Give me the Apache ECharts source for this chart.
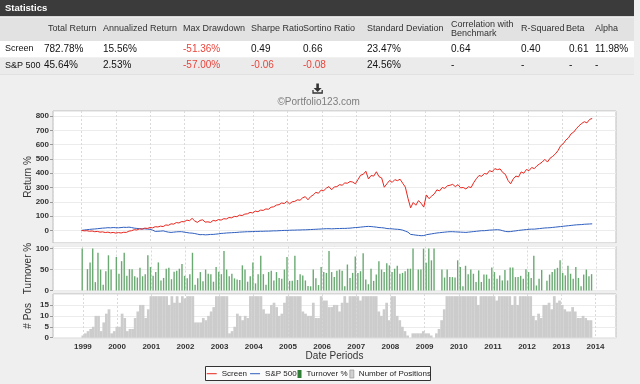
<!DOCTYPE html>
<html><head><meta charset="utf-8">
<script src="https://cdn.jsdelivr.net/npm/echarts@6/dist/echarts.min.js"></script>
<style>html,body{margin:0;padding:0;background:#efefef}#c{width:640px;height:384px}</style>
</head><body><div id="c"></div>
<script>
// ---------- data ----------
const statColumns = ['Total Return','Annualized Return','Max Drawdown','Sharpe Ratio','Sortino Ratio','Standard Deviation','Correlation with\nBenchmark','R-Squared','Beta','Alpha'];
const statRows = ['Screen','S&P 500'];
const screenStats = ['782.78%','15.56%','-51.36%','0.49','0.66','23.47%','0.64','0.40','0.61','11.98%'];
const sp500Stats  = ['45.64%','2.53%','-57.00%','-0.06','-0.08','24.56%','-','-','-','-'];
const seriesNames = ['Screen','S&P 500','Turnover %','Number of Positions'];
const footerText = '\u00A9Portfolio123.com';
// 4-week rebalance periods starting at the end of 1998
const periodStart = '1998-12-31';
const periodDays = 28;

const screenReturn = [0,-3,-2,-6,-4,-9,-7,
-12,-10,-15,-12,-17,-14,-19,-15,-18,-13,-14,-5,-2,
5,3,11,9,16,14,20,
18,26,24,30,27,38,
36,46,44,55,52,62,
60,72,68,84,66,56,
70,74,58,60,56,70,
66,76,72,82,80,90,
88,98,96,107,104,114,
116,126,122,135,131,142,
140,150,148,162,165,177,
180,192,188,203,186,200,
203,214,211,228,236,214,
236,248,266,260,282,278,
296,306,284,304,306,320,
316,332,330,342,338,326,
355,386,392,414,360,384,
380,410,376,367,302,326,
349,336,355,348,358,330,
303,225,158,195,176,208,
190,163,248,222,240,255,
284,276,300,294,312,316,
322,306,320,298,300,290,
305,300,335,362,384,378,
398,394,418,410,432,425,
430,405,392,350,326,360,
380,374,409,400,426,418,
440,432,452,465,478,497,
478,505,518,535,558,592,
606,632,648,676,688,712,
732,748,760,752,776,783];

const sp500Return = [0,3,5,7,9,10,12,
14,16,17,19,18,20,19,18,20,22,21,23,20,
16,14,12,10,11,9,8,
2,-7,-6,-5,-3,-8,
-12,-14,-12,-10,-9,-9,
-12,-15,-18,-19,-22,-26,
-30,-29,-31,-30,-28,-28,
-26,-24,-21,-20,-18,-17,
-16,-15,-14,-12,-11,-10,
-9,-9,-8,-7,-7,-6,
-6,-5,-5,-4,-3,-3,
-2,-1,0,0,1,2,
2,3,3,4,4,5,
6,7,8,9,10,11,
12,12,11,12,13,13,
14,14,15,16,18,20,
21,23,25,27,28,27,
25,23,20,19,17,13,
12,11,9,8,6,2,
-5,-12,-28,-30,-33,-35,
-37,-36,-30,-27,-24,-21,
-18,-16,-14,-12,-10,-9,
-9,-10,-11,-12,-13,-14,
-12,-10,-8,-6,-4,-2,
-2,0,2,3,4,5,
3,-2,-7,-9,-8,-5,
-3,0,2,4,6,8,
9,9,11,13,15,17,
18,19,21,23,25,27,
29,31,33,35,37,39,
40,41,43,44,45,46];

const turnover = [100,0,51,67,100,20,90,50,14,46,
84,50,0,80,40,70,90,35,51,51,
34,31,54,34,39,84,56,35,44,67,
24,30,52,54,27,45,47,52,63,35,
29,39,90,14,29,44,22,50,40,39,
21,56,45,39,94,50,34,40,29,26,
25,60,50,21,34,67,17,39,83,39,
14,44,47,24,44,30,28,50,80,23,
23,83,25,39,36,24,11,10,50,29,
13,
56,44,42,94,44,32,47,50,47,10,
62,30,42,81,42,46,89,26,15,52,
23,38,70,50,44,65,60,44,52,59,
40,42,46,52,52,100,0,50,50,100,
66,100,72,100,0,0,50,31,50,32,
32,31,72,56,10,59,39,50,40,20,
48,20,38,38,28,55,44,28,36,24,
49,24,55,55,32,32,35,28,51,44,
30,83,12,28,49,0,23,38,44,51,
54,72,42,36,59,40,28,56,30,10,
38,50,34,39];

const positions = [1,2,3,4,5,10,10,3,7,11,
13,2,3,5,5,11,9,3,4,4,
9,12,15,15,9,13,
19,19,19,19,19,19,19,
15,19,16,19,16,19,18,19,19,19,
7,7,7,
9,8,10,12,14,
19,19,19,19,19,
2,3,5,11,10,8,10,9,
19,19,19,19,19,
13,11,11,15,16,14,10,11,16,
19,19,19,19,19,19,
12,11,10,10,16,9,
9,19,17,17,14,14,15,15,12,16,19,16,
19,19,19,19,17,19,19,19,19,19,19,
12,10,13,16,8,19,19,10,8,5,3,1,0,
2,2,2,2,3,2,2,1,0,2,4,8,13,
19,19,19,19,19,19,19,19,19,19,19,19,
15,
19,19,19,19,19,19,17,19,19,19,19,19,
15,
19,15,19,19,19,19,19,
10,8,11,9,15,15,16,13,19,16,17,15,13,12,12,14,12,9,9,10,9,8,8];

// ---------- build ----------
const DAY = 86400000;
const t0 = Date.parse(periodStart + 'T00:00:00Z');
const periodDate = i => t0 + i * periodDays * DAY;
const pairs = arr => arr.map((v, i) => [periodDate(i), v]);

const FONT = '"Liberation Sans", Arial, sans-serif';
const xMin = Date.UTC(1998, 2, 2), xMax = Date.UTC(2014, 6, 25);
const gridL = 53, gridW = 563;

function xAxis(gi, showLabel) {
  return {
    type: 'time', gridIndex: gi, min: xMin, max: xMax,
    splitNumber: 16, maxInterval: 366 * DAY,
    axisLine: {show: false}, axisTick: {show: false},
    axisLabel: {show: showLabel, formatter: '{yyyy}', fontSize: 8, fontWeight: 'bold', color: '#333',
      fontFamily: FONT, margin: 5, showMinLabel: false, showMaxLabel: false},
    splitLine: {show: true, lineStyle: {color: '#dadada', type: [2, 2], width: 1}},
    name: showLabel ? 'Date Periods' : '', nameLocation: 'middle', nameGap: 13.5, nameMoveOverlap: false,
    nameTextStyle: {fontSize: 10, color: '#333', fontFamily: FONT}
  };
}
function yAxis(gi, name, extra) {
  return Object.assign({
    type: 'value', gridIndex: gi, name: name, nameLocation: 'middle', nameGap: 20, nameMoveOverlap: false,
    nameTextStyle: {fontSize: 10, color: '#333', fontFamily: FONT},
    axisLine: {show: false},
    axisTick: {show: true, length: 3, lineStyle: {color: '#999'}},
    axisLabel: {fontSize: 8, fontWeight: 'bold', color: '#333', fontFamily: FONT, margin: 4,
      showMinLabel: extra.showMin, showMaxLabel: false},
    splitLine: {show: true, lineStyle: {color: '#ececec', width: 1}}
  }, extra.opts);
}

// statistics table as graphic elements
const headX = [48, 103, 183, 251, 303, 367, 451, 521, 566, 595];
const valX  = [44, 103, 183, 251, 303, 367, 451, 521, 569, 595];
const gfx = [];
gfx.push({type: 'rect', shape: {x: 0, y: 0, width: 634, height: 16.5}, style: {fill: '#3b3b3b'}});
gfx.push({type: 'text', x: 5, y: 8, style: {text: 'Statistics', fill: '#fff', font: 'bold 9.5px ' + FONT, verticalAlign: 'middle'}});
gfx.push({type: 'rect', shape: {x: 0, y: 16.5, width: 634, height: 24.5}, style: {fill: '#e2e2e2'}});
gfx.push({type: 'rect', shape: {x: 0, y: 16.5, width: 634, height: 1}, style: {fill: '#f4f4f4'}});
gfx.push({type: 'rect', shape: {x: 0, y: 41, width: 634, height: 16.5}, style: {fill: '#ffffff'}});
gfx.push({type: 'rect', shape: {x: 0, y: 57.5, width: 634, height: 16.5}, style: {fill: '#ebebeb'}});
gfx.push({type: 'rect', shape: {x: 0, y: 74, width: 634, height: 0.8}, style: {fill: '#dddddd'}});
statColumns.forEach((c, i) => {
  gfx.push({type: 'text', x: headX[i], y: 28.8, style: {text: c, fill: '#333', font: '9px ' + FONT, verticalAlign: 'middle', lineHeight: 9}});
});
[screenStats, sp500Stats].forEach((row, r) => {
  const y = r === 0 ? 49 : 65.7;
  gfx.push({type: 'text', x: 5, y: y, style: {text: statRows[r], fill: '#111', font: '9px ' + FONT, verticalAlign: 'middle'}});
  row.forEach((v, i) => {
    const neg = v.length > 1 && v[0] === '-';
    gfx.push({type: 'text', x: valX[i], y: y, style: {text: v, fill: neg ? '#e8453c' : '#111', font: '10px ' + FONT, verticalAlign: 'middle'}});
  });
});
// download icon + copyright
gfx.push({type: 'rect', shape: {x: 316.3, y: 83.5, width: 2.6, height: 4.8}, style: {fill: '#333'}});
gfx.push({type: 'polygon', shape: {points: [[313.6, 88], [321.6, 88], [317.6, 92]]}, style: {fill: '#333'}});
gfx.push({type: 'polyline', shape: {points: [[313, 90], [313, 93], [322.2, 93], [322.2, 90]]}, style: {stroke: '#333', lineWidth: 1.3, fill: null}});
gfx.push({type: 'text', x: 318.7, y: 102.7, style: {text: footerText, fill: '#7d7d7d', font: '10px ' + FONT, align: 'center', verticalAlign: 'middle'}});
// legend frame
gfx.push({type: 'rect', z: -1, shape: {x: 205.5, y: 366.5, width: 225, height: 14}, style: {fill: '#fbfbfb', stroke: '#333', lineWidth: 1}});

const chart = echarts.init(document.getElementById('c'), null, {renderer: 'canvas'});
chart.setOption({
  animation: false,
  backgroundColor: '#efefef',
  textStyle: {fontFamily: FONT},
  graphic: {elements: gfx},
  grid: [
    {left: gridL, top: 111, width: gridW, height: 132, show: true, backgroundColor: '#fff', borderColor: '#bdbdbd', borderWidth: 1, outerBoundsMode: 'none'},
    {left: gridL, top: 246.5, width: gridW, height: 44, show: true, backgroundColor: '#fff', borderColor: '#bdbdbd', borderWidth: 1, outerBoundsMode: 'none'},
    {left: gridL, top: 294, width: gridW, height: 43.7, show: true, backgroundColor: '#fff', borderColor: '#bdbdbd', borderWidth: 1, outerBoundsMode: 'none'}
  ],
  xAxis: [xAxis(0, false), xAxis(1, false), xAxis(2, true)],
  yAxis: [
    yAxis(0, 'Return %', {showMin: false, opts: {min: -88, max: 835, splitNumber: 9, minInterval: 100, maxInterval: 100}}),
    yAxis(1, 'Turnover %', {showMin: true, opts: {min: 0, max: 105, interval: 50}}),
    yAxis(2, '# Pos', {showMin: true, opts: {min: 0, max: 20, interval: 5}})
  ],
  legend: [
    {left: 206.7, top: 369.7, padding: 0, itemWidth: 10, itemHeight: 8, itemGap: 3, selectedMode: false,
      textStyle: {fontSize: 8, color: '#222', fontFamily: FONT, lineHeight: 8},
      data: [{name: seriesNames[0], icon: 'path://M0,0H20V2H0Z'}, {name: seriesNames[1], icon: 'path://M0,0H20V2H0Z'}]},
    {left: 297.5, top: 369.7, padding: 0, itemWidth: 4, itemHeight: 8, itemGap: 2, selectedMode: false,
      textStyle: {fontSize: 8, color: '#222', fontFamily: FONT, lineHeight: 8},
      data: [{name: seriesNames[2], icon: 'rect', itemStyle: {color: '#2f7d35'}},
             {name: seriesNames[3], icon: 'rect', itemStyle: {color: '#d0d0d0', borderColor: '#8a8a8a', borderWidth: 0.6}}]}
  ],
  series: [
    {name: seriesNames[0], type: 'line', xAxisIndex: 0, yAxisIndex: 0, data: pairs(screenReturn),
      showSymbol: false, color: '#e8251d', lineStyle: {width: 1, color: '#e8251d'}, z: 3},
    {name: seriesNames[1], type: 'line', xAxisIndex: 0, yAxisIndex: 0, data: pairs(sp500Return),
      showSymbol: false, color: '#2f5fbf', lineStyle: {width: 1, color: '#2f5fbf'}, z: 2},
    {name: seriesNames[2], type: 'bar', xAxisIndex: 1, yAxisIndex: 1, data: pairs(turnover),
      barWidth: 1.4, color: '#6aaa72', itemStyle: {color: '#6aaa72'}},
    {name: seriesNames[3], type: 'bar', xAxisIndex: 2, yAxisIndex: 2, data: pairs(positions),
      barWidth: 2.75, color: '#cccccc', itemStyle: {color: '#cccccc'}}
  ]
});
</script></body></html>
